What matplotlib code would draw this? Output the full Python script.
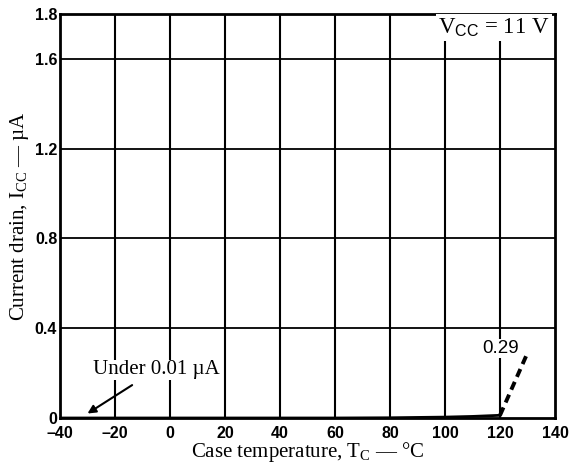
import numpy as np
import matplotlib
matplotlib.use("Agg")
import matplotlib.pyplot as plt

plt.rcParams['font.family'] = ['Liberation Serif', 'DejaVu Serif']
plt.rcParams['mathtext.fontset'] = 'custom'
plt.rcParams['mathtext.rm'] = 'Liberation Serif'
plt.rcParams['mathtext.it'] = 'Liberation Serif:italic'
plt.rcParams['mathtext.sf'] = 'Liberation Sans'

# current drain vs case temperature (solid part)
temp = [-40, -20, 0, 20, 40, 60, 80, 100, 110, 120]
icc = [0.0, 0.0, 0.0, 0.0, 0.0, 0.0, 0.001, 0.004, 0.007, 0.012]

# dashed extrapolation
temp_ext = [120, 130]
icc_ext = [0.012, 0.29]

xticks = [-40, -20, 0, 20, 40, 60, 80, 100, 120, 140]
xlabels = ['\u201340', '\u201320', '0', '20', '40', '60', '80', '100', '120', '140']
yticks = [0, 0.4, 0.8, 1.2, 1.6, 1.8]
ylabels = ['0', '0.4', '0.8', '1.2', '1.6', '1.8']

fig = plt.figure(figsize=(5.71, 4.63), dpi=100)
ax = fig.add_axes([60 / 571, 1 - 418 / 463, 495 / 571, 404 / 463])

# grid
for x in xticks[1:-1]:
    ax.axvline(x, color='black', lw=1.5, zorder=1)
for y in [0.4, 0.8, 1.2, 1.6]:
    ax.axhline(y, color='black', lw=1.3, zorder=1)

ax.plot(temp, icc, color='black', lw=2, zorder=3)
ax.plot(temp_ext, icc_ext, color='black', lw=2.8, ls=(0, (2.2, 1.4)), zorder=3)

ax.set_xlim(-40, 140)
ax.set_ylim(0, 1.8)
ax.set_xticks(xticks)
ax.set_xticklabels(xlabels)
ax.set_yticks(yticks)
ax.set_yticklabels(ylabels)
ax.tick_params(axis='x', length=0, pad=6)
ax.tick_params(axis='y', length=0, pad=2)
for lab in ax.get_xticklabels() + ax.get_yticklabels():
    lab.set_family('Liberation Sans')
    lab.set_fontweight('bold')
    lab.set_fontsize(11.5)
ax.get_yticklabels()[0].set_va('center_baseline')

for s in ax.spines.values():
    s.set_linewidth(2)

ax.set_xlabel(r'Case temperature, T$_{\mathrm{C}}$ — °C', fontsize=15, labelpad=-1)
ax.set_ylabel(r'Current drain, I$_{\mathrm{CC}}$ — µA', fontsize=15, labelpad=3)

ax.text(138, 1.74, r'V$_{\mathsf{CC}}$ = 11 V', fontsize=16.5, ha='right', va='center',
        bbox=dict(facecolor='white', edgecolor='none', pad=1.5), zorder=4)

ax.annotate('Under 0.01 µA', xy=(-30, 0.02), xytext=(-5, 0.215),
            fontsize=15, ha='center', va='center',
            bbox=dict(facecolor='white', edgecolor='none', pad=0.5),
            arrowprops=dict(arrowstyle='-|>', color='black', lw=1.5,
                            shrinkA=7, shrinkB=0, mutation_scale=12))

ax.text(127, 0.31, '0.29', fontsize=13.5, ha='right', va='center',
        family='Liberation Sans',
        bbox=dict(facecolor='white', edgecolor='none', pad=0.5), zorder=4)

fig.savefig('out.png', dpi=100)
